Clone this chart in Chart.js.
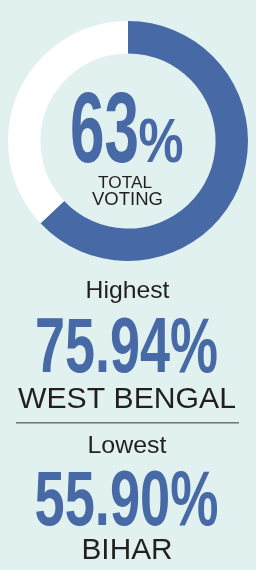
<!DOCTYPE html>
<html>
<head>
<meta charset="utf-8">
<script src="https://cdn.jsdelivr.net/npm/chart.js@4/dist/chart.umd.min.js"></script>
<style>
    html, body { margin: 0; padding: 0; background: #e0f1f0; }
    canvas { display: block; }
</style>
</head>
<body>
<canvas id="turnout" width="256" height="570"></canvas>
<script>
// data
const ringLabels = ['Voted', 'Did not vote'];
const ringValues = [63, 37];
const centerCaption = ['TOTAL', 'VOTING'];
const extremeTitles = ['Highest', 'Lowest'];
const extremeValues = [75.94, 55.90];
const extremeStates = ['WEST BENGAL', 'BIHAR'];

const BLUE = '#4769a6';
const INK = '#231f20';
const FONT = '"Liberation Sans", Arial, Helvetica, sans-serif';

// draw text squeezed/stretched to a given width
const fitText = (ctx, text, x, y, size, weight, width, color, align) => {
    ctx.save();
    ctx.font = weight + ' ' + size + 'px ' + FONT;
    const w = ctx.measureText(text).width;
    ctx.translate(x, y);
    ctx.scale(width / w, 1);
    ctx.fillStyle = color;
    ctx.textAlign = align || 'center';
    ctx.textBaseline = 'alphabetic';
    ctx.fillText(text, 0, 0);
    ctx.restore();
}

const textPlugin = {
    id: 'textPlugin',
    afterDraw(chart) {
        const ctx = chart.ctx;
        // centre of the ring
        fitText(ctx, String(ringValues[0]), 70, 161.5, 100, 'bold', 69, BLUE, 'left');
        fitText(ctx, '%', 138.5, 161.5, 63, 'bold', 45, BLUE, 'left');
        fitText(ctx, centerCaption[0], 125, 187.5, 17, 'normal', 54, INK);
        fitText(ctx, centerCaption[1], 127.5, 205, 18, 'normal', 71, INK);

        // highest
        fitText(ctx, extremeTitles[0], 127.5, 298, 24, 'normal', 84, INK);
        fitText(ctx, extremeValues[0].toFixed(2) + '%', 126.5, 372, 77, 'bold', 183, BLUE);
        fitText(ctx, extremeStates[0], 127, 407.5, 30, 'normal', 218, INK);

        ctx.fillStyle = '#7b7b7b';
        ctx.fillRect(16, 422, 223, 1.6);

        // lowest
        fitText(ctx, extremeTitles[1], 127, 452.5, 24, 'normal', 79, INK);
        fitText(ctx, extremeValues[1].toFixed(2) + '%', 126.5, 525, 77, 'bold', 184, BLUE);
        fitText(ctx, extremeStates[1], 127, 559, 30, 'normal', 91, INK);
    }
};

const ring = new Chart(document.getElementById('turnout'), {
    type: 'doughnut',
    data: {
        labels: ringLabels,
        datasets: [{
            data: ringValues,
            backgroundColor: [BLUE, '#ffffff'],
            borderWidth: 0
        }]
    },
    options: {
        responsive: false,
        animation: false,
        cutout: '73%',
        layout: {
            padding: { top: 21, left: 8, right: 8, bottom: 309 }
        },
        plugins: {
            legend: { display: false },
            tooltip: { enabled: false }
        }
    },
    plugins: [textPlugin]
});
</script>
</body>
</html>
